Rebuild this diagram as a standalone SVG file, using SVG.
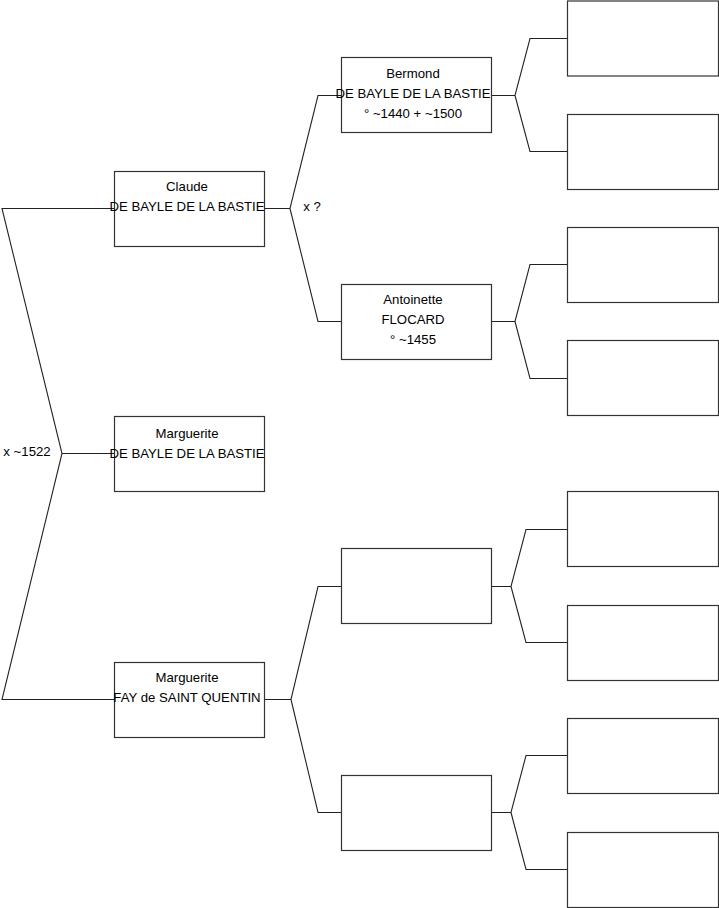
<svg xmlns="http://www.w3.org/2000/svg" width="719" height="908" viewBox="0 0 719 908">
<style>
.box{fill:#fff;stroke:#333;stroke-width:1.2}
.ln{fill:none;stroke:#222;stroke-width:1.1}
text{font-family:"Liberation Sans",Arial,sans-serif;font-size:13.2px;fill:#000;text-anchor:middle}
</style>
<rect width="719" height="908" fill="#fff"/>
<g id="connectors">
<path class="ln" d="M114,208.5 H2 L62,453.5 L2,699.5 H114 M62,453.5 H114"/>
<path class="ln" d="M265,208.5 H290 L318,95.5 H341 M290,208.5 L318,321.5 H341"/>
<path class="ln" d="M265,699.5 H291 L318,586.5 H341 M291,699.5 L318,812.5 H341"/>
<path class="ln" d="M491,95.5 H515 L530,38.5 H567 M515,95.5 L530,151.5 H567"/>
<path class="ln" d="M491,321.5 H515 L530,264.5 H567 M515,321.5 L530,378.5 H567"/>
<path class="ln" d="M491,586.5 H511 L526,529.5 H567 M511,586.5 L526,642.5 H567"/>
<path class="ln" d="M491,812.5 H511 L526,755.5 H567 M511,812.5 L526,869.5 H567"/>
<text x="27" y="456">x ~1522</text>
<text x="312" y="211">x ?</text>
</g>
<g id="claude"><rect class="box" x="114.5" y="171.5" width="150" height="75"/><text x="187" y="191">Claude</text><text x="187" y="211">DE BAYLE DE LA BASTIE</text></g>
<g id="marguerite1"><rect class="box" x="114.5" y="416.5" width="150" height="75"/><text x="187" y="438">Marguerite</text><text x="187" y="458">DE BAYLE DE LA BASTIE</text></g>
<g id="marguerite2"><rect class="box" x="114.5" y="662.5" width="150" height="75"/><text x="187" y="682">Marguerite</text><text x="187" y="702">FAY de SAINT QUENTIN</text></g>
<g id="bermond"><rect class="box" x="341.5" y="57.5" width="150" height="75"/><text x="413" y="78">Bermond</text><text x="413" y="98">DE BAYLE DE LA BASTIE</text><text x="413" y="118">° ~1440 + ~1500</text></g>
<g id="antoinette"><rect class="box" x="341.5" y="284.5" width="150" height="75"/><text x="413" y="304">Antoinette</text><text x="413" y="324">FLOCARD</text><text x="413" y="344">° ~1455</text></g>
<g id="p3"><rect class="box" x="341.5" y="548.5" width="150" height="75"/></g>
<g id="p4"><rect class="box" x="341.5" y="775.5" width="150" height="75"/></g>
<g id="g1"><rect class="box" x="567.5" y="1" width="151" height="75"/></g>
<g id="g2"><rect class="box" x="567.5" y="114.5" width="151" height="75"/></g>
<g id="g3"><rect class="box" x="567.5" y="227.5" width="151" height="75"/></g>
<g id="g4"><rect class="box" x="567.5" y="340.5" width="151" height="75"/></g>
<g id="g5"><rect class="box" x="567.5" y="491.5" width="151" height="75"/></g>
<g id="g6"><rect class="box" x="567.5" y="605.5" width="151" height="75"/></g>
<g id="g7"><rect class="box" x="567.5" y="718.5" width="151" height="75"/></g>
<g id="g8"><rect class="box" x="567.5" y="832.5" width="151" height="75"/></g>
</svg>
